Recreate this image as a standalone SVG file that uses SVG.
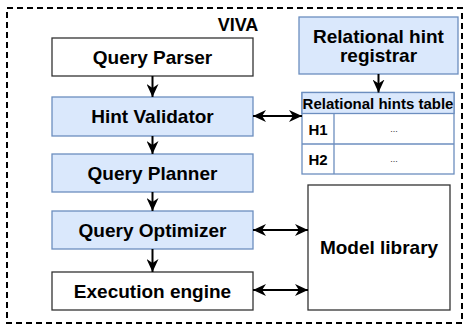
<svg xmlns="http://www.w3.org/2000/svg" width="465" height="330" viewBox="0 0 465 330">
<defs>
<marker id="ah" viewBox="0 0 10 10" refX="10" refY="5" markerWidth="13" markerHeight="12" markerUnits="userSpaceOnUse" orient="auto-start-reverse" preserveAspectRatio="none">
<path d="M0,0 L10,5 L0,10 L3,5 Z" fill="#000"/>
</marker>
</defs>
<style>
text{font-family:"Liberation Sans",Arial,Helvetica,sans-serif;font-weight:bold;fill:#000;text-anchor:middle;dominant-baseline:central}
.w{fill:#fff;stroke:#333;stroke-width:1.3}
.b{fill:#dae8fc;stroke:#6c8ebf;stroke-width:1.3}
.lbl{font-size:19px}
.c{stroke:#000;stroke-width:2;fill:none}
.s1{marker-end:url(#ah)}
.s2{marker-start:url(#ah);marker-end:url(#ah)}
</style>
<rect x="7" y="8" width="455" height="315" fill="#fff" stroke="#000" stroke-width="2" stroke-dasharray="6 4"/>
<g id="viva-label"><text x="238" y="25" style="font-size:18px">VIVA</text></g>
<g id="query-parser"><rect x="52" y="38" width="201" height="38" class="w"/><text x="152.5" y="57" class="lbl">Query Parser</text></g>
<g id="hint-validator"><rect x="52" y="97" width="201" height="39" class="b"/><text x="152.5" y="116.5" class="lbl">Hint Validator</text></g>
<g id="query-planner"><rect x="52" y="154" width="201" height="38" class="b"/><text x="152.5" y="173" class="lbl">Query Planner</text></g>
<g id="query-optimizer"><rect x="52" y="211" width="201" height="38" class="b"/><text x="152.5" y="230" class="lbl">Query Optimizer</text></g>
<g id="execution-engine"><rect x="52" y="272" width="201" height="38" class="w"/><text x="152.5" y="291" class="lbl">Execution engine</text></g>
<g id="hint-registrar"><rect x="299" y="17" width="159" height="57" class="b"/><text x="378.5" y="36" class="lbl">Relational hint</text><text x="378.5" y="55" class="lbl">registrar</text></g>
<g id="hints-table">
<rect x="302" y="92.5" width="152" height="81.5" fill="#fff" stroke="#6c8ebf" stroke-width="1.3"/>
<rect x="302" y="92.5" width="152" height="21" class="b"/>
<line x1="302" y1="144" x2="454" y2="144" stroke="#6c8ebf" stroke-width="1.3"/>
<line x1="334" y1="113.5" x2="334" y2="174" stroke="#6c8ebf" stroke-width="1.3"/>
<text x="378" y="103.5" style="font-size:15px">Relational hints table</text>
<text x="318" y="129" style="font-size:15px">H1</text>
<text x="318" y="159" style="font-size:15px">H2</text>
<text x="394" y="129" style="font-size:9px;font-weight:normal;fill:#333">...</text>
<text x="394" y="159" style="font-size:9px;font-weight:normal;fill:#333">...</text>
</g>
<g id="model-library"><rect x="308" y="185" width="142" height="125" class="w"/><text x="379" y="247.5" class="lbl">Model library</text></g>
<g id="connectors">
<line x1="152.5" y1="76" x2="152.5" y2="97" class="c s1"/>
<line x1="152.5" y1="136" x2="152.5" y2="154" class="c s1"/>
<line x1="152.5" y1="192" x2="152.5" y2="211" class="c s1"/>
<line x1="152.5" y1="249" x2="152.5" y2="272" class="c s1"/>
<line x1="378.5" y1="74" x2="378.5" y2="92.5" class="c s1"/>
<line x1="253" y1="116" x2="302" y2="116" class="c s2"/>
<line x1="253" y1="230" x2="308" y2="230" class="c s2"/>
<line x1="253" y1="290" x2="308" y2="290" class="c s2"/>
</g>
</svg>
